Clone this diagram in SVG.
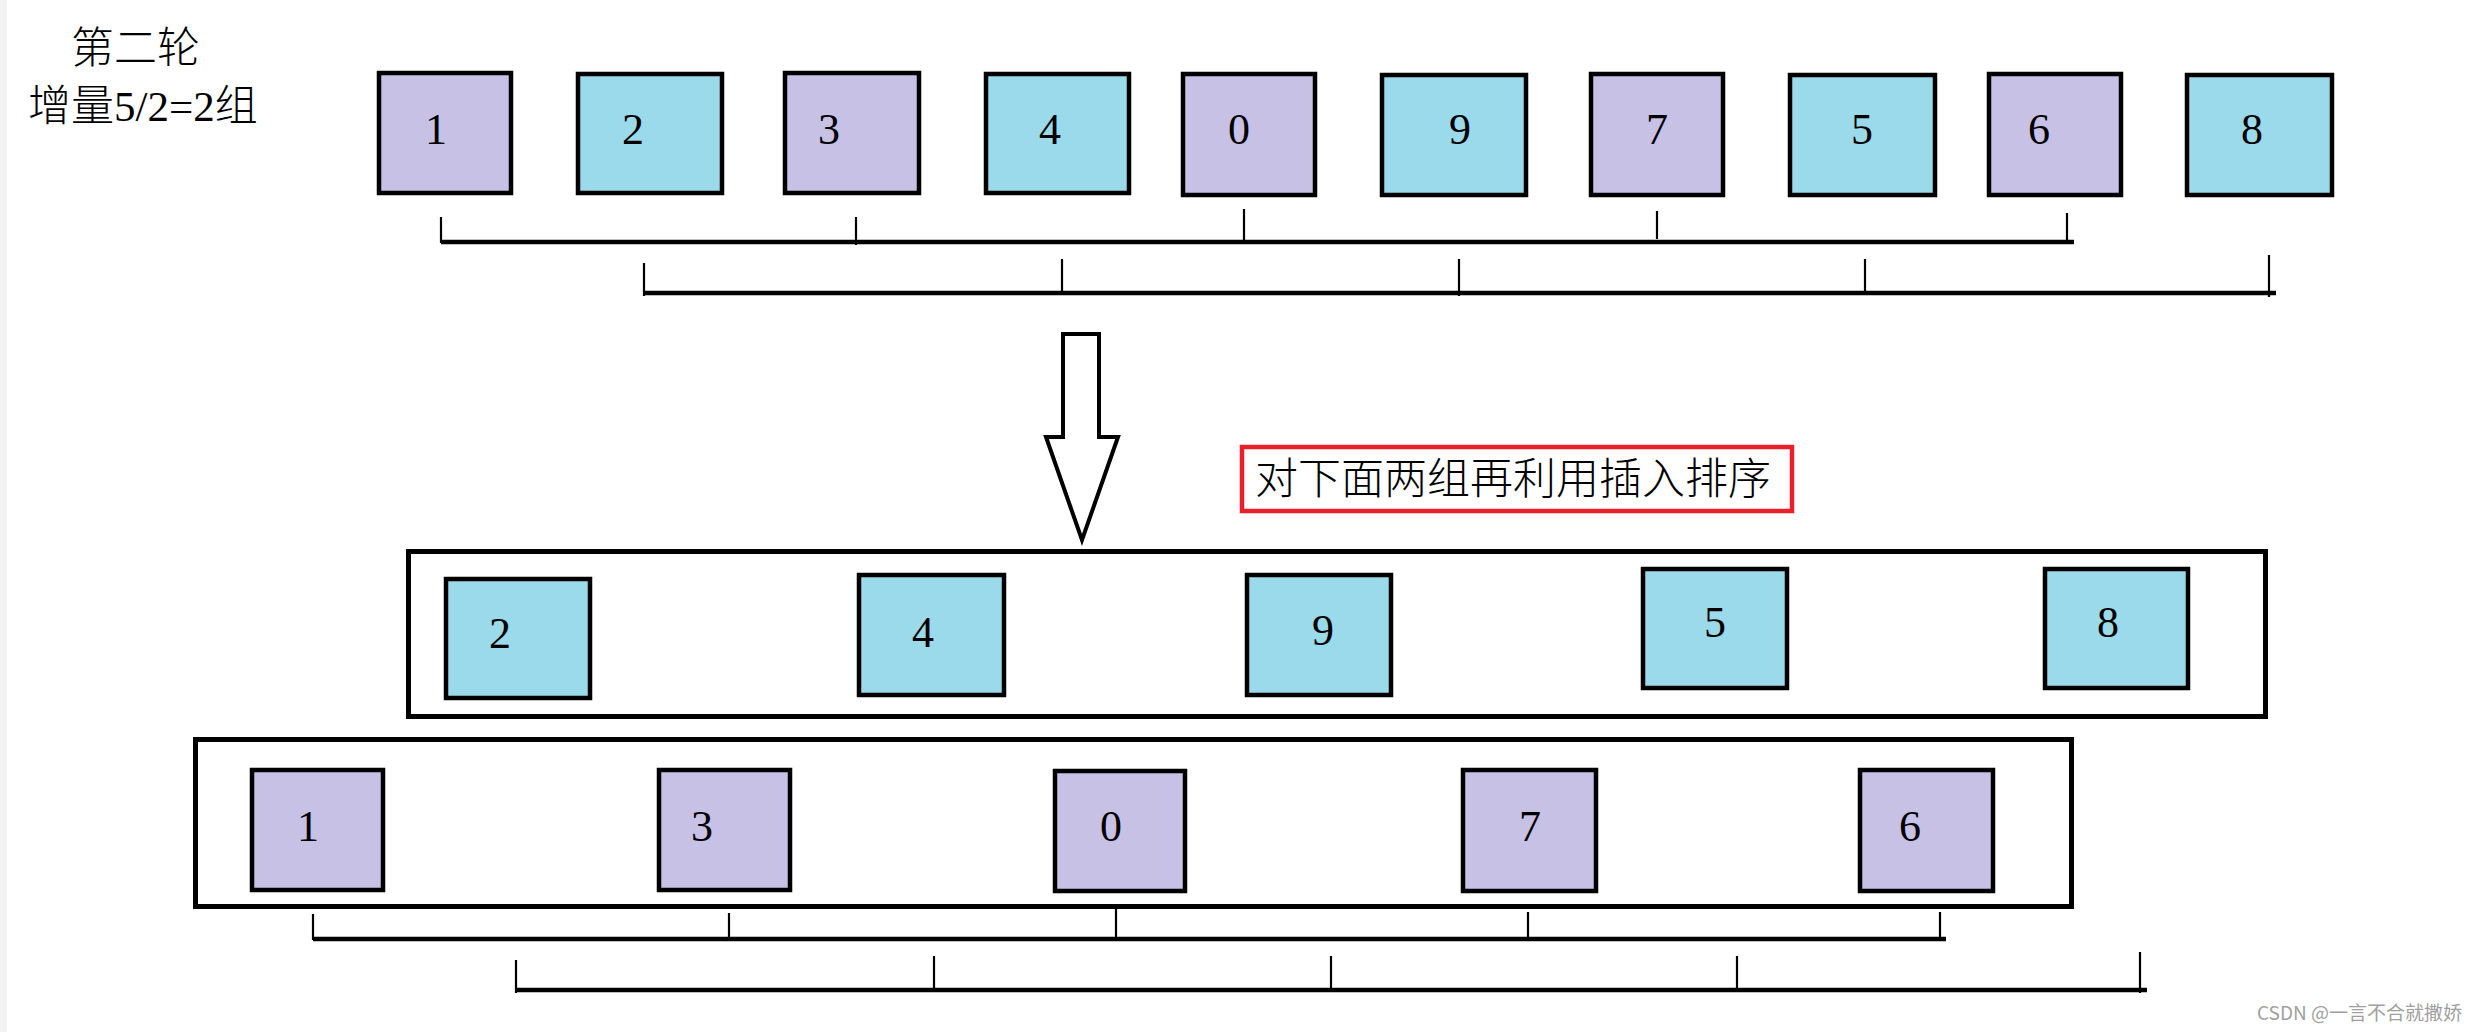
<svg xmlns="http://www.w3.org/2000/svg" width="2485" height="1032" viewBox="0 0 2485 1032">
<style>
.p{fill:#C8C1E6;stroke:#000;stroke-width:4.5}
.b{fill:#9BDAEA;stroke:#000;stroke-width:4.5}
.frame{fill:none;stroke:#000;stroke-width:5}
.n{font-family:"Liberation Serif",serif;font-size:44px;fill:#000;text-anchor:middle}
.cn{font-family:"Liberation Serif","Noto Sans CJK SC",serif;font-size:43px;font-weight:300;fill:#000}
.h{stroke:#000;stroke-width:4.5;fill:none}
.t{stroke:#000;stroke-width:2.2;fill:none}
</style>
<rect x="0" y="0" width="2485" height="1032" fill="#fff"/>
<rect x="0" y="0" width="7" height="1032" fill="#f3f3f3"/>

<g id="title">
<text class="cn" x="71" y="63">第二轮</text>
<text class="cn" x="28" y="121">增量5/2=2组</text>
</g>

<g id="top-row">
<g id="t1"><rect class="p" x="379" y="73" width="132" height="120"/><text class="n" x="436" y="144">1</text></g>
<g id="t2"><rect class="b" x="578" y="74" width="144" height="119"/><text class="n" x="633" y="144">2</text></g>
<g id="t3"><rect class="p" x="785" y="73" width="134" height="120"/><text class="n" x="829" y="144">3</text></g>
<g id="t4"><rect class="b" x="986" y="74" width="143" height="119"/><text class="n" x="1050" y="144">4</text></g>
<g id="t0"><rect class="p" x="1183" y="74" width="132" height="121"/><text class="n" x="1239" y="144">0</text></g>
<g id="t9"><rect class="b" x="1382" y="75" width="144" height="120"/><text class="n" x="1460" y="144">9</text></g>
<g id="t7"><rect class="p" x="1591" y="74" width="132" height="121"/><text class="n" x="1657" y="144">7</text></g>
<g id="t5"><rect class="b" x="1790" y="75" width="145" height="120"/><text class="n" x="1862" y="144">5</text></g>
<g id="t6"><rect class="p" x="1989" y="74" width="132" height="121"/><text class="n" x="2039" y="144">6</text></g>
<g id="t8"><rect class="b" x="2187" y="75" width="145" height="120"/><text class="n" x="2252" y="144">8</text></g>
</g>

<g id="note">
<rect x="1242" y="447" width="550" height="64" fill="none" stroke="#E8202A" stroke-width="4.5"/>
<text class="cn" x="1255" y="494">对下面两组再利用插入排序</text>
</g>

<g id="group-blue">
<rect class="frame" x="408.5" y="551.5" width="1857" height="165"/>
<g id="g2"><rect class="b" x="446" y="579" width="144" height="119"/><text class="n" x="500" y="648">2</text></g>
<g id="g4"><rect class="b" x="859" y="575" width="145" height="120"/><text class="n" x="923" y="647">4</text></g>
<g id="g9"><rect class="b" x="1247" y="575" width="144" height="120"/><text class="n" x="1323" y="645">9</text></g>
<g id="g5"><rect class="b" x="1643" y="569" width="144" height="119"/><text class="n" x="1715" y="637">5</text></g>
<g id="g8"><rect class="b" x="2045" y="569" width="143" height="119"/><text class="n" x="2108" y="637">8</text></g>
</g>

<g id="group-purple">
<rect class="frame" x="195.5" y="739.5" width="1876" height="167"/>
<g id="p1"><rect class="p" x="252" y="770" width="131" height="120"/><text class="n" x="308" y="841">1</text></g>
<g id="p3"><rect class="p" x="659" y="770" width="131" height="120"/><text class="n" x="702" y="841">3</text></g>
<g id="p0"><rect class="p" x="1055" y="771" width="130" height="120"/><text class="n" x="1111" y="841">0</text></g>
<g id="p7"><rect class="p" x="1463" y="770" width="133" height="121"/><text class="n" x="1530" y="841">7</text></g>
<g id="p6"><rect class="p" x="1860" y="770" width="133" height="121"/><text class="n" x="1910" y="841">6</text></g>
</g>

<g id="connectors">
<path class="h" d="M441 242 H2074"/>
<path class="t" d="M441 217 V243 M856 217 V245 M1244 209 V240 M1657 211 V239 M2067 213 V240"/>
<path class="h" d="M644 293 H2276"/>
<path class="t" d="M644 263 V296 M1062 259 V292 M1459 259 V296 M1865 259 V295 M2269 255 V297"/>
<polygon points="1063,334 1099,334 1099,437 1118,437 1082,540 1046,437 1063,437" fill="#fff" stroke="#000" stroke-width="4" stroke-linejoin="miter"/>
<path class="h" d="M313 939 H1946"/>
<path class="t" d="M313 914 V940 M729 913 V941 M1116 906 V938 M1528 912 V937 M1940 912 V938"/>
<path class="h" d="M516 990 H2147"/>
<path class="t" d="M516 960 V993 M934 956 V988 M1331 956 V992 M1737 956 V992 M2140 952 V993"/>
</g>

<text x="2257" y="1020" font-family="'Noto Sans CJK SC',sans-serif" font-size="19" fill="#a0a0a0">CSDN @一言不合就撒娇</text>
</svg>
